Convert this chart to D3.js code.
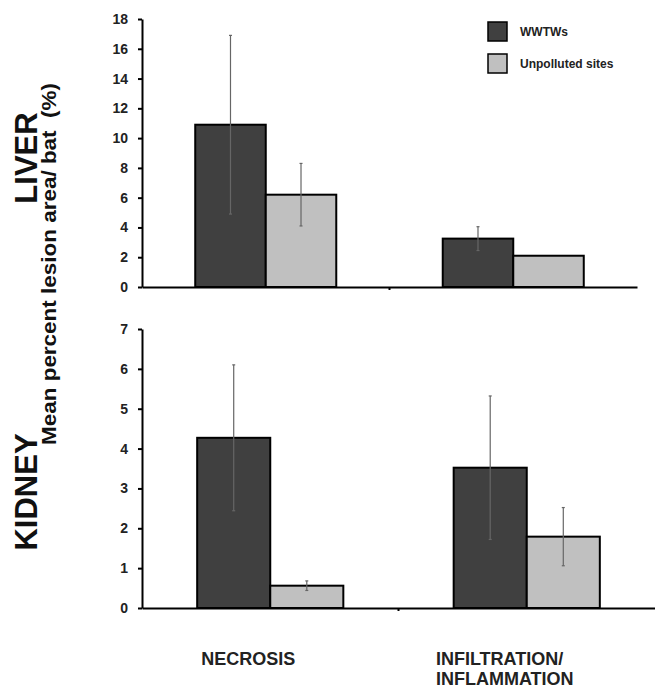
<!DOCTYPE html>
<html>
<head>
<meta charset="utf-8">
<script src="https://cdn.jsdelivr.net/npm/d3@7"></script>
<style>
	body { margin: 0; background: #fff; }
	text { font-family: 'Liberation Sans', Arial, sans-serif; font-weight: bold; }
</style>
</head>
<body>
<div id="chart"></div>
<script>
// data
const categories = ['NECROSIS', 'INFILTRATION/INFLAMMATION'];
const categoryLines = [['NECROSIS'], ['INFILTRATION/', 'INFLAMMATION']];
const series = ['WWTWs', 'Unpolluted sites'];
const seriesColors = ['#404040', '#c0c0c0'];

const liverMeans = [[10.9, 6.2], [3.25, 2.1]];
const liverErrors = [[6.0, 2.1], [0.8, 0]];
const kidneyMeans = [[4.27, 0.56], [3.52, 1.79]];
const kidneyErrors = [[1.83, 0.12], [1.8, 0.73]];

const liverTicks = d3.range(0, 19, 2);
const kidneyTicks = d3.range(0, 8, 1);

const width = 655;
const height = 688;

const svg = d3.select('#chart').append('svg')
	.attr('width', width)
	.attr('height', height);

function panel(cfg) {
	const { means, errors, yMax, ticks, top, bottom, left, right } = cfg;

	const x = d3.scaleBand()
		.domain(categories)
		.range([left, right])
		.padding(0);

	const xSub = d3.scaleBand()
		.domain(series)
		.range([0, x.bandwidth()])
		.paddingInner(0)
		.paddingOuter(0.755);

	const y = d3.scaleLinear()
		.domain([0, yMax])
		.range([bottom, top]);

	const g = svg.append('g');

	// bars
	categories.forEach((c, ci) => {
		const rows = series.map((s, si) => ({
			s, si, v: means[ci][si], e: errors[ci][si],
		}));
		const grp = g.append('g').attr('transform', `translate(${x(c)},0)`);
		grp.selectAll('rect')
			.data(rows)
			.enter().append('rect')
				.attr('x', (d) => xSub(d.s))
				.attr('y', (d) => y(d.v))
				.attr('width', xSub.bandwidth())
				.attr('height', (d) => y(0) - y(d.v))
				.attr('fill', (d) => seriesColors[d.si])
				.attr('stroke', '#000')
				.attr('stroke-width', 2);

		const eb = grp.selectAll('.err')
			.data(rows.filter((d) => d.e > 0))
			.enter().append('g')
				.attr('class', 'err');
		eb.append('line')
			.attr('x1', (d) => xSub(d.s) + xSub.bandwidth() / 2)
			.attr('x2', (d) => xSub(d.s) + xSub.bandwidth() / 2)
			.attr('y1', (d) => y(d.v + d.e))
			.attr('y2', (d) => y(d.v - d.e))
			.attr('stroke', '#666')
			.attr('stroke-width', 1.2);
		['+', '-'].forEach((sign) => {
			eb.append('line')
				.attr('x1', (d) => xSub(d.s) + xSub.bandwidth() / 2 - 1.5)
				.attr('x2', (d) => xSub(d.s) + xSub.bandwidth() / 2 + 1.5)
				.attr('y1', (d) => y(sign === '+' ? d.v + d.e : d.v - d.e))
				.attr('y2', (d) => y(sign === '+' ? d.v + d.e : d.v - d.e))
				.attr('stroke', '#666')
				.attr('stroke-width', 1.2);
		});
	});

	// y axis
	const yAxis = g.append('g')
		.attr('transform', `translate(${left},0)`)
		.call(d3.axisLeft(y).tickValues(ticks).tickFormat(d3.format('d'))
			.tickSize(4).tickPadding(10).tickSizeOuter(0));
	yAxis.select('.domain').attr('stroke', '#000').attr('stroke-width', 2);
	yAxis.selectAll('.tick line').attr('stroke', '#000').attr('stroke-width', 2);
	yAxis.selectAll('.tick text')
		.attr('fill', '#222')
		.style('font-size', '14px');

	// x axis, with a single divider tick between the categories
	const xAxis = g.append('g')
		.attr('transform', `translate(0,${bottom})`)
		.call(d3.axisBottom(x).tickValues([]).tickSizeOuter(0));
	xAxis.select('.domain').attr('stroke', '#000').attr('stroke-width', 2);
	xAxis.append('line')
		.attr('x1', x(categories[1]))
		.attr('x2', x(categories[1]))
		.attr('y1', 0)
		.attr('y2', 3)
		.attr('stroke', '#000')
		.attr('stroke-width', 2);

	return x;
}

panel({
	means: liverMeans, errors: liverErrors, yMax: 18, ticks: liverTicks,
	top: 19, bottom: 287, left: 142, right: 637,
});

const xK = panel({
	means: kidneyMeans, errors: kidneyErrors, yMax: 7, ticks: kidneyTicks,
	top: 329, bottom: 608, left: 142, right: 655,
});

// category labels below the lower panel, lines left-aligned as a block
categories.forEach((c, ci) => {
	const cx = xK(c) + xK.bandwidth() / 2 - 22;
	const t = svg.append('text')
		.attr('y', 665)
		.attr('fill', '#222')
		.style('font-size', '18px');
	const spans = categoryLines[ci].map((line, li) => t.append('tspan')
		.attr('dy', li === 0 ? 0 : 20)
		.text(line));
	const w = d3.max(spans, (s) => s.node().getComputedTextLength());
	spans.forEach((s) => s.attr('x', cx - w / 2));
});

// legend
const legend = svg.append('g').attr('transform', 'translate(488,22)');
series.forEach((s, i) => {
	legend.append('rect')
		.attr('x', 0)
		.attr('y', i * 32)
		.attr('width', 19)
		.attr('height', 19)
		.attr('fill', seriesColors[i])
		.attr('stroke', '#000')
		.attr('stroke-width', 1.5);
	legend.append('text')
		.attr('x', 32)
		.attr('y', i * 32 + 14)
		.attr('fill', '#222')
		.style('font-size', '12px')
		.text(s);
});

// rotated labels
svg.append('text')
	.attr('transform', 'translate(37,158) rotate(-90)')
	.attr('text-anchor', 'middle')
	.attr('fill', '#111')
	.style('font-size', '31px')
	.text('LIVER');

svg.append('text')
	.attr('transform', 'translate(37,492) rotate(-90)')
	.attr('text-anchor', 'middle')
	.attr('fill', '#111')
	.style('font-size', '31px')
	.text('KIDNEY');

svg.append('text')
	.attr('transform', 'translate(56,264) rotate(-90)')
	.attr('text-anchor', 'middle')
	.attr('fill', '#111')
	.attr('xml:space', 'preserve')
	.attr('textLength', 362)
	.attr('lengthAdjust', 'spacingAndGlyphs')
	.style('font-size', '20px')
	.text('Mean percent lesion area/ bat  (%)');
</script>
</body>
</html>
